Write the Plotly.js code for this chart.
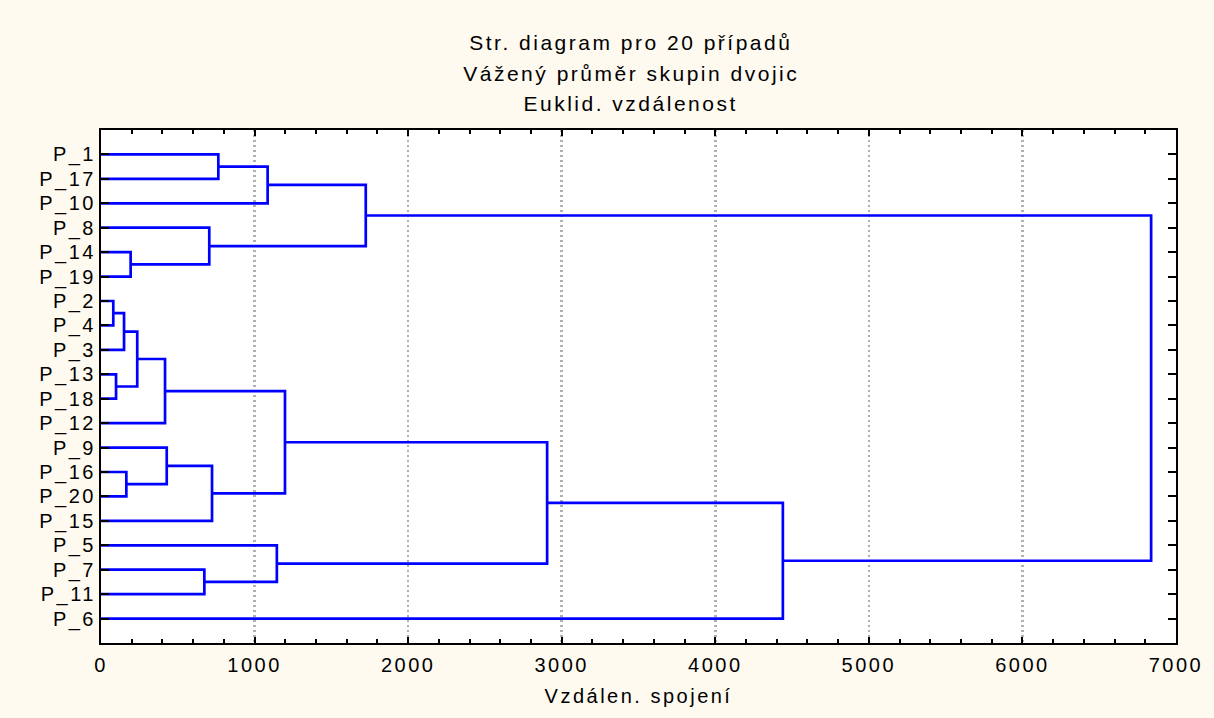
<!DOCTYPE html>
<html>
<head>
<meta charset="utf-8">
<script src="https://cdn.plot.ly/plotly-3.0.1.min.js"></script>
<style>
  html, body { margin: 0; padding: 0; background: #FFFAF0; }
  #chart .main-svg text { letter-spacing: 2.5px; }
</style>
</head>
<body>
<div id="chart" style="width:1214px;height:718px;"></div>
<script>
// Leaf order (top to bottom)
const leaves = ['P_1','P_17','P_10','P_8','P_14','P_19','P_2','P_4','P_3','P_13','P_18','P_12','P_9','P_16','P_20','P_15','P_5','P_7','P_11','P_6'];

// Merge steps: cluster Ck joins mergeA[k-1] and mergeB[k-1] at linkage distance mergeH[k-1]
const mergeA = ['P_2','P_13','C1','P_16','P_14','C3','C6','P_9','P_7','P_8','C8','P_1','C12','P_5','C7','C13','C15','C17','C16'];
const mergeB = ['P_4','P_18','P_3','P_20','P_19','C2','P_12','C4','P_11','C5','P_15','P_17','P_10','C9','C11','C10','C14','P_6','C18'];
const mergeH = [80, 98, 150, 165, 193, 236, 417, 428, 673, 705, 723, 764, 1085, 1145, 1198, 1724, 2905, 4440, 6838];

const xTicks = [0, 1000, 2000, 3000, 4000, 5000, 6000, 7000];

const titleLines = ['Str. diagram pro 20 případů', 'Vážený průměr skupin dvojic', 'Euklid. vzdálenost'];
const xTitle = 'Vzdálen. spojení';

// Build dendrogram segments
const pos = {}, ht = {};
leaves.forEach((l, i) => { pos[l] = i + 1; ht[l] = 0; });
const xs = [], ys = [];
mergeA.forEach((a, k) => {
  const b = mergeB[k], h = mergeH[k], id = 'C' + (k + 1);
  xs.push(ht[a], h, h, ht[b], null);
  ys.push(pos[a], pos[a], pos[b], pos[b], null);
  pos[id] = (pos[a] + pos[b]) / 2;
  ht[id] = h;
});

const font = 'Liberation Sans, Arial, sans-serif';

const trace = {
  type: 'scatter', mode: 'lines', x: xs, y: ys,
  line: { color: '#0000FF', width: 2.7 },
  hoverinfo: 'skip', showlegend: false
};

const titleY = [1.1696, 1.1111, 1.0526];
const annotations = titleLines.map((t, i) => ({
  text: t, xref: 'paper', yref: 'paper', x: 0.493, y: titleY[i],
  xanchor: 'center', yanchor: 'middle', showarrow: false,
  font: { family: font, size: 21, color: '#000' }
}));

const layout = {
  width: 1214, height: 718,
  margin: { l: 101, r: 38, t: 130, b: 75 },
  paper_bgcolor: '#FFFAF0', plot_bgcolor: '#FFFFFF',
  showlegend: false,
  annotations: annotations,
  xaxis: {
    range: [0, 7000], tickvals: xTicks, ticktext: xTicks.map(String),
    ticks: 'inside', ticklen: 6, tickwidth: 2, tickcolor: '#000',
    showline: true, linewidth: 2, linecolor: '#000', mirror: 'ticks',
    showgrid: true, gridcolor: '#b0b0b0', gridwidth: 2.5, griddash: '2px,3px',
    zeroline: false,
    minor: { dtick: 200, tick0: 0, ticks: 'inside', ticklen: 4, tickwidth: 2, tickcolor: '#000', showgrid: false },
    tickfont: { family: font, size: 20, color: '#000' },
    ticklabelstandoff: 3,
    title: { text: xTitle, font: { family: font, size: 20, color: '#000' }, standoff: 14 }
  },
  yaxis: {
    range: [21, 0], tickvals: leaves.map((l, i) => i + 1), ticktext: leaves,
    ticks: 'inside', ticklen: 8, tickwidth: 2, tickcolor: '#000',
    showline: true, linewidth: 2, linecolor: '#000', mirror: 'ticks',
    showgrid: false, zeroline: false,
    tickfont: { family: font, size: 20, color: '#000' },
    ticklabelstandoff: -1
  }
};

Plotly.newPlot('chart', [trace], layout, { staticPlot: true, displayModeBar: false });
</script>
</body>
</html>
